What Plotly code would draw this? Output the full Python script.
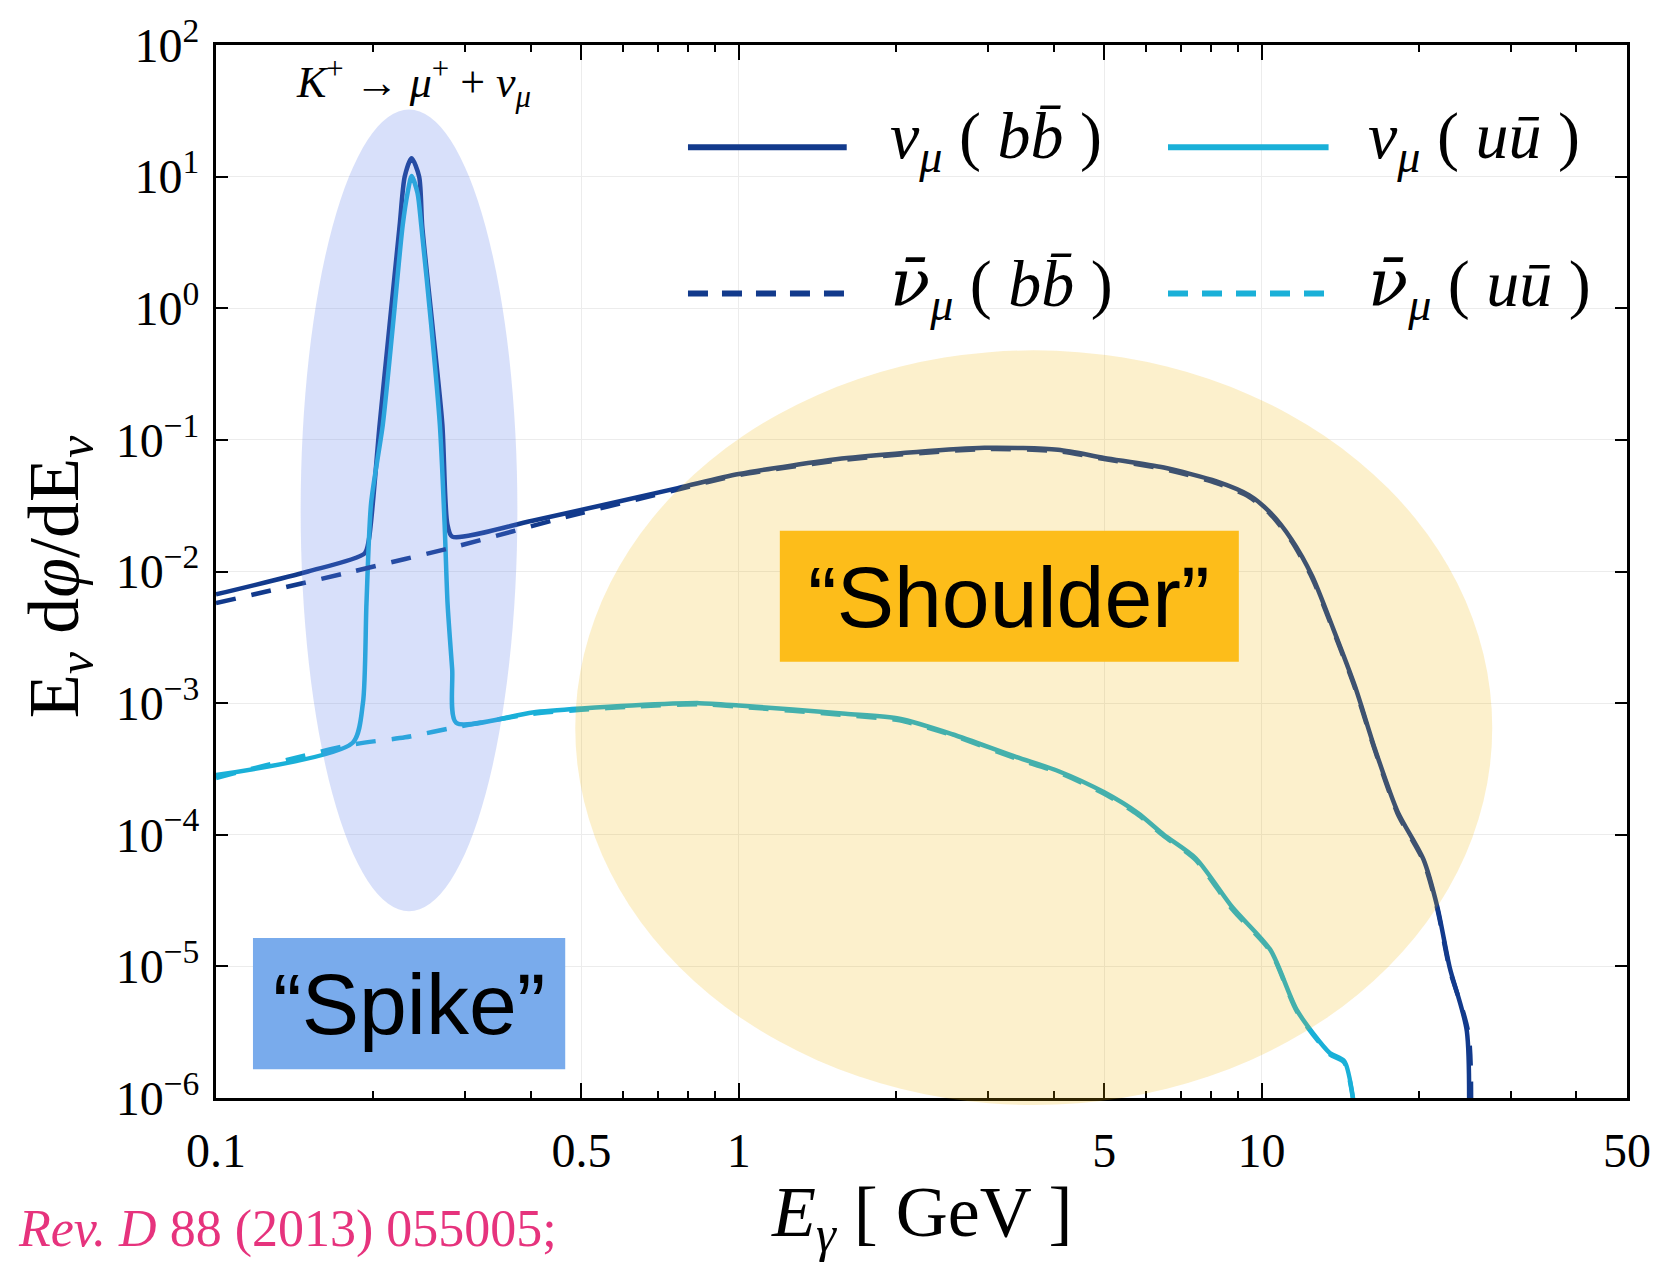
import plotly.graph_objects as go
import math

# ---------------- data ----------------
E_nu_bb = [0.1, 0.15, 0.1924, 0.196, 0.2056, 0.2148, 0.2245, 0.2296, 0.2367, 0.2447, 0.248, 0.2594, 0.271,
           0.277, 0.283, 0.403, 0.764, 1.0, 1.61, 2.95, 4.08, 5.0, 6.5, 8.2, 9.46, 10.4, 11.4, 12.5, 13.7,
           15.1, 16.5, 18.2, 20.4, 21.7, 22.9, 24.7, 24.72]
F_nu_bb = [6.7e-3, 1.0e-2, 1.37e-2, 1.73e-2, 0.131, 0.745, 4.23, 10.0, 13.8, 10.0, 4.23, 0.745, 0.131,
           0.023, 0.0184, 0.0243, 0.043, 0.055, 0.0727, 0.087, 0.084, 0.073, 0.0616, 0.0484, 0.038, 0.0279,
           0.0176, 9.2e-3, 3.7e-3, 1.33e-3, 4.4e-4, 1.5e-4, 6.5e-5, 2.8e-5, 9.8e-6, 3.2e-6, 1e-7]

E_nubar_bb = [0.1, 0.1826, 0.292, 0.468, 0.764, 1.0, 1.61, 2.95, 4.08, 5.0, 6.5, 8.2, 9.46, 10.4, 11.4,
              12.5, 13.7, 15.1, 16.5, 18.2, 20.4, 21.7, 22.9, 24.9, 24.92]
F_nubar_bb = [5.75e-3, 1.0e-2, 0.0157, 0.026, 0.042, 0.054, 0.071, 0.085, 0.082, 0.0715, 0.060, 0.047,
              0.037, 0.0272, 0.0171, 8.9e-3, 3.6e-3, 1.29e-3, 4.3e-4, 1.45e-4, 6.3e-5, 2.7e-5, 9.5e-6,
              3.0e-6, 1e-7]

E_nu_uu = [0.1, 0.1826, 0.191, 0.194, 0.198, 0.2085, 0.218, 0.2275, 0.2325, 0.2367, 0.2429, 0.247, 0.258,
           0.268, 0.2737, 0.2773, 0.283, 0.288, 0.403, 0.5, 0.625, 0.84, 1.0, 1.6, 2.03, 2.56, 3.39, 4.08,
           5.0, 5.8, 6.5, 7.49, 8.8, 10.4, 11.7, 13.5, 14.4, 15.3]
F_nu_uu = [2.84e-4, 5.0e-4, 1.0e-3, 5.7e-3, 0.033, 0.131, 0.745, 4.23, 7.5, 10.1, 7.5, 4.23, 0.745, 0.131,
           0.023, 5.7e-3, 1.8e-3, 7.1e-4, 8.5e-4, 9.1e-4, 9.6e-4, 1.0e-3, 9.6e-4, 8.3e-4, 7.6e-4, 5.8e-4,
           3.9e-4, 3.05e-4, 2.1e-4, 1.46e-4, 1.0e-4, 6.6e-5, 2.8e-5, 1.33e-5, 4.6e-6, 2.2e-6, 1.9e-6, 5e-7]

E_nubar_uu = [0.1, 0.1826, 0.23, 0.29, 0.403, 0.5, 0.625, 0.84, 1.0, 1.6, 2.03, 2.56, 3.39, 4.08, 5.0,
              5.8, 6.5, 7.49, 8.8, 10.4, 11.7, 13.5, 14.4, 15.3]
F_nubar_uu = [2.7e-4, 4.85e-4, 5.5e-4, 6.6e-4, 8.3e-4, 8.9e-4, 9.4e-4, 9.8e-4, 9.4e-4, 8.1e-4, 7.4e-4,
              5.7e-4, 3.8e-4, 2.98e-4, 2.05e-4, 1.42e-4, 9.8e-5, 6.4e-5, 2.7e-5, 1.3e-5, 4.5e-6, 2.15e-6,
              1.85e-6, 5e-7]

x_tickvals = [0.1, 0.5, 1, 5, 10, 50]
x_ticktext = ["0.1", "0.5", "1", "5", "10", "50"]
x_minorvals = [0.2, 0.3, 0.4, 0.6, 0.7, 0.8, 0.9, 2, 3, 4, 6, 7, 8, 9, 20, 30, 40]
y_tickvals = [1e2, 1e1, 1e0, 1e-1, 1e-2, 1e-3, 1e-4, 1e-5, 1e-6]
y_ticktext = ["10<sup>2</sup>", "10<sup>1</sup>", "10<sup>0</sup>", "10<sup>\u22121</sup>",
              "10<sup>\u22122</sup>", "10<sup>\u22123</sup>", "10<sup>\u22124</sup>",
              "10<sup>\u22125</sup>", "10<sup>\u22126</sup>"]

DARK = "#123a8c"
CYAN = "#1ab0d8"
SERIF = "Liberation Serif"
SANS = "Liberation Sans"

fig = go.Figure()
series = [
    (E_nu_bb, F_nu_bb, DARK, "solid"),
    (E_nu_uu, F_nu_uu, CYAN, "solid"),
    (E_nubar_bb, F_nubar_bb, DARK, "20px,16px"),
    (E_nubar_uu, F_nubar_uu, CYAN, "20px,16px"),
]
for ex, fy, col, dash in series:
    fig.add_trace(go.Scatter(x=ex, y=fy, mode="lines", showlegend=False,
                             line=dict(color=col, width=4.5, dash=dash, shape="spline", smoothing=0.7)))

shapes = []
# shaded regions
shapes.append(dict(type="circle", xref="paper", yref="paper", x0=0.2546, x1=0.9045, y0=-0.0066, y1=0.710,
                   fillcolor="rgba(240,180,0,0.2)", line=dict(width=0), layer="above"))
shapes.append(dict(type="circle", xref="paper", yref="paper", x0=0.060, x1=0.2136, y0=0.1774, y1=0.9387,
                   fillcolor="rgba(100,130,235,0.25)", line=dict(width=0), layer="above"))
# label boxes
shapes.append(dict(type="rect", xref="paper", yref="paper", x0=0.3996, x1=0.7249, y0=0.4142, y1=0.5387,
                   fillcolor="#fdbd1a", line=dict(width=0), layer="above"))
shapes.append(dict(type="rect", xref="paper", yref="paper", x0=0.0262, x1=0.2475, y0=0.0274, y1=0.1519,
                   fillcolor="#79abec", line=dict(width=0), layer="above"))
# legend samples
leg_rows = [0.903, 0.764]
leg_cols = [(0.3345, 0.447), (0.6747, 0.7885)]
leg_style = [[(DARK, "solid"), (CYAN, "solid")], [(DARK, "20px,14px"), (CYAN, "20px,14px")]]
for r, yy in enumerate(leg_rows):
    for c, (xa, xb) in enumerate(leg_cols):
        col, dash = leg_style[r][c]
        shapes.append(dict(type="line", xref="paper", yref="paper", x0=xa, x1=xb, y0=yy, y1=yy,
                           line=dict(color=col, width=6, dash=dash), layer="above"))

bbar = "<i>b</i><i>b\u0304</i>"
ubar = "<i>u</i><i>u\u0304</i>"
nu = "<i>\u03bd</i><sub><i>\u03bc</i></sub>"
nubar = "<span style='font-family:DejaVu Serif'><i>\u03bd\u0304</i></span><sub><i>\u03bc</i></sub>"
leg_texts = [[f"{nu} ( {bbar} )", f"{nu} ( {ubar} )"], [f"{nubar} ( {bbar} )", f"{nubar} ( {ubar} )"]]
leg_text_x = [0.476, 0.8147]

annotations = []
for r, yy in enumerate(leg_rows):
    for c in range(2):
        annotations.append(dict(xref="paper", yref="paper", x=leg_text_x[c], y=yy + 0.006, xanchor="left",
                                yanchor="middle", showarrow=False, text=leg_texts[r][c],
                                font=dict(family=SERIF, size=66, color="black")))

annotations += [
    dict(xref="paper", yref="paper", x=0.140, y=0.964, showarrow=False, xanchor="center", yanchor="middle",
         text="<i>K</i><sup>+</sup> \u2192 <i>\u03bc</i><sup>+</sup> + <i>\u03bd</i><sub><i>\u03bc</i></sub>",
         font=dict(family=SERIF, size=44, color="black")),
    dict(xref="paper", yref="paper", x=0.562, y=0.476, showarrow=False, xanchor="center", yanchor="middle",
         text="\u201cShoulder\u201d", font=dict(family=SANS, size=86, color="black")),
    dict(xref="paper", yref="paper", x=0.1369, y=0.0897, showarrow=False, xanchor="center", yanchor="middle",
         text="\u201cSpike\u201d", font=dict(family=SANS, size=86, color="black")),
    dict(xref="paper", yref="paper", x=0.5, y=-0.113, showarrow=False, xanchor="center", yanchor="middle",
         text="<i>E</i><sub><i>\u03b3</i></sub> [ GeV ]", font=dict(family=SERIF, size=72, color="black")),
    dict(xref="paper", yref="paper", x=-0.1117, y=0.495, showarrow=False, textangle=-90,
         xanchor="center", yanchor="middle",
         text="E<sub><i>\u03bd</i></sub> d<i>\u03c6</i>/dE<sub><i>\u03bd</i></sub>",
         font=dict(family=SERIF, size=72, color="black")),
    dict(xref="paper", yref="paper", x=-0.142, y=-0.1245, showarrow=False, xanchor="left", yanchor="middle",
         text="<i>Rev. D</i> 88 (2013) 055005;", font=dict(family=SERIF, size=52, color="#e6337d")),
]

fig.update_layout(
    width=1663, height=1266,
    margin=dict(l=216, r=33, t=38, b=168),
    paper_bgcolor="white", plot_bgcolor="rgba(0,0,0,0)",
    shapes=shapes, annotations=annotations,
    xaxis=dict(type="log", range=[-1, math.log10(50)], tickmode="array", tickvals=x_tickvals,
               ticktext=x_ticktext, ticks="inside", ticklen=15, tickwidth=2, tickcolor="black",
               showline=True, linewidth=3, linecolor="black", mirror="ticks",
               showgrid=True, gridcolor="#ececec", gridwidth=1, zeroline=False,
               tickfont=dict(family=SERIF, size=48, color="black"), ticklabelstandoff=8,
               minor=dict(tickmode="array", tickvals=x_minorvals, ticks="inside", ticklen=7,
                          tickwidth=1.5, tickcolor="black", showgrid=False)),
    yaxis=dict(type="log", range=[-6, 2], tickmode="array", tickvals=y_tickvals, ticktext=y_ticktext,
               ticks="inside", ticklen=12, tickwidth=2, tickcolor="black",
               showline=True, linewidth=3, linecolor="black", mirror="ticks",
               showgrid=True, gridcolor="#ececec", gridwidth=1, zeroline=False,
               tickfont=dict(family=SERIF, size=48, color="black"), ticklabelstandoff=4),
)

fig.write_html("out.html")
